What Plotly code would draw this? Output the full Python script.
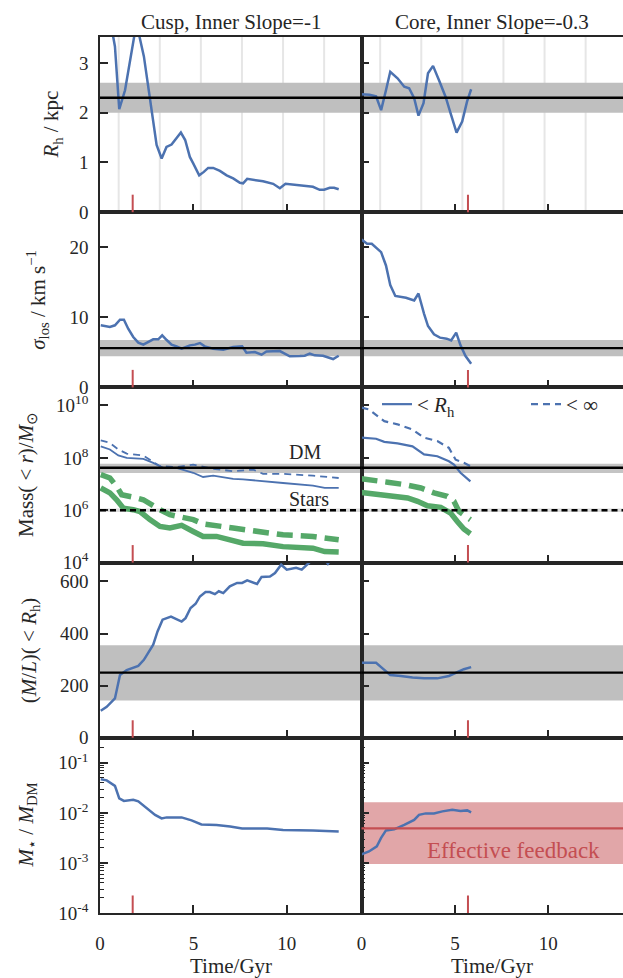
import plotly.graph_objects as go
from plotly.subplots import make_subplots

BLUE = "#4C72B0"
GREEN = "#55A868"
RED = "#C44E52"
TXT = "#262626"
FONT = "Liberation Serif"
BAND = "#BFBFBF"

# ---------------- data ----------------
# Cusp (left column)
t_rh_cusp = [0.0, 0.4, 0.71, 0.8, 1.03, 1.34, 1.84, 2.1, 2.35, 2.64, 3.03, 3.3, 3.56, 3.83, 4.1, 4.33,
             4.56, 4.81, 4.99, 5.31, 5.56, 5.79, 6.06, 6.42, 6.78, 7.13, 7.49, 7.66, 7.88, 8.2, 8.73,
             9.27, 9.63, 9.93, 10.34, 10.87, 11.4, 11.76, 12.0, 12.3, 12.53, 12.78]
rh_cusp = [5.0, 4.2, 3.55, 3.33, 2.07, 2.45, 3.55, 3.55, 3.13, 2.39, 1.35, 1.08, 1.31, 1.36, 1.48, 1.60,
           1.45, 1.11, 0.98, 0.74, 0.81, 0.89, 0.89, 0.83, 0.74, 0.68, 0.59, 0.58, 0.67, 0.65, 0.62,
           0.57, 0.48, 0.57, 0.55, 0.53, 0.51, 0.45, 0.45, 0.49, 0.49, 0.46]

t_sig_cusp = [0.04, 0.53, 0.8, 1.07, 1.28, 1.51, 1.78, 2.05, 2.32, 2.58, 2.85, 3.12, 3.33, 3.57, 3.83,
              4.1, 4.37, 4.81, 5.08, 5.35, 5.61, 6.06, 6.6, 7.13, 7.61, 7.84, 8.29, 8.65, 8.91, 9.63,
              10.16, 10.7, 10.96, 11.23, 11.5, 11.94, 12.48, 12.78]
sig_cusp = [8.86, 8.62, 8.86, 9.67, 9.67, 8.38, 7.19, 6.38, 6.1, 6.48, 6.86, 6.86, 7.43, 6.76, 6.1,
            5.86, 5.52, 6.0, 6.1, 6.33, 5.86, 5.52, 5.38, 5.76, 5.86, 4.95, 5.05, 4.67, 5.14, 5.19,
            4.43, 4.48, 4.52, 4.81, 4.57, 4.52, 4.05, 4.52]

t_dm_rh_cusp = [0.04, 0.53, 0.98, 1.43, 2.32, 2.85, 3.39, 4.1, 4.99, 5.52, 6.06, 7.13, 7.66, 8.73,
                9.8, 11.4, 12.03, 12.78]
log_dm_rh_cusp = [8.44, 8.32, 8.09, 8.0, 7.96, 7.81, 7.62, 7.62, 7.43, 7.27, 7.32, 7.2, 7.18, 7.1,
                  7.04, 6.94, 6.85, 6.85]
t_dm_all_cusp = [0.04, 0.53, 0.98, 1.43, 2.32, 3.21, 4.1, 4.99, 6.06, 7.13, 8.2, 8.73, 9.8, 11.4, 12.78]
log_dm_all_cusp = [8.67, 8.57, 8.32, 8.16, 8.09, 7.68, 7.65, 7.74, 7.58, 7.49, 7.55, 7.39, 7.39, 7.32, 7.23]
t_st_rh_cusp = [0.04, 0.53, 0.89, 1.25, 1.78, 2.14, 2.67, 3.21, 3.74, 4.37, 4.99, 5.52, 6.24, 7.13,
                7.66, 8.73, 9.8, 11.4, 12.03, 12.78]
log_st_rh_cusp = [6.85, 6.66, 6.4, 6.08, 6.02, 5.95, 5.64, 5.38, 5.32, 5.42, 5.19, 5.0, 5.0, 4.87,
                  4.74, 4.72, 4.61, 4.55, 4.42, 4.4]
t_st_all_cusp = [0.04, 0.53, 0.89, 1.16, 1.78, 2.32, 3.21, 3.74, 4.99, 5.52, 7.13, 8.73, 9.8, 11.4, 12.78]
log_st_all_cusp = [7.36, 7.23, 6.91, 6.59, 6.5, 6.4, 6.02, 5.83, 5.64, 5.48, 5.32, 5.19, 5.06, 5.0, 4.87]

t_ml_cusp = [0.04, 0.36, 0.8, 1.07, 1.43, 2.05, 2.35, 2.58, 2.85, 3.08, 3.35, 3.8, 4.37, 4.58, 4.85,
             5.12, 5.35, 5.65, 5.88, 6.15, 6.36, 6.6, 6.95, 7.34, 7.61, 7.88, 8.41, 8.65, 9.1, 9.37,
             9.7, 10.0, 10.5, 10.8, 11.2, 11.5, 12.0, 12.2, 12.5, 12.78]
ml_cusp = [104, 119, 151, 241, 260, 276, 299, 327, 357, 408, 453, 465, 446, 459, 498,
           514, 542, 559, 559, 551, 562, 555, 581, 594, 594, 604, 590, 617, 619, 632,
           664, 645, 652, 645, 672, 700, 690, 668, 700, 720]

t_ratio_cusp = [0.04, 0.36, 0.8, 1.03, 1.28, 1.78, 2.05, 2.5, 2.95, 3.3, 3.57, 4.37, 4.9, 5.43, 6.24,
                6.97, 7.61, 8.95, 9.8, 11.4, 12.78]
log_ratio_cusp = [-1.33, -1.35, -1.46, -1.71, -1.76, -1.74, -1.77, -1.91, -2.04, -2.11, -2.09, -2.09,
                  -2.15, -2.23, -2.24, -2.27, -2.31, -2.31, -2.34, -2.35, -2.37]

# Core (right column)
t_rh_core = [0.0, 0.43, 0.78, 1.05, 1.31, 1.54, 1.93, 2.29, 2.55, 2.82, 3.05, 3.32, 3.56, 3.83, 4.15,
             4.5, 4.8, 5.09, 5.39, 5.65, 5.87]
rh_core = [2.37, 2.36, 2.33, 2.05, 2.45, 2.82, 2.69, 2.52, 2.49, 2.29, 1.94, 2.19, 2.79, 2.94, 2.65,
           2.32, 1.95, 1.6, 1.82, 2.22, 2.47]

t_sig_core = [0.0, 0.3, 0.55, 1.05, 1.31, 1.54, 1.81, 2.38, 2.82, 3.05, 3.35, 3.56, 3.88, 4.2, 4.56,
              4.8, 5.07, 5.3, 5.57, 5.87]
sig_core = [21.1, 20.5, 20.5, 19.3, 17.4, 14.6, 13.05, 12.8, 12.4, 13.4, 10.5, 8.76, 7.57, 7.1, 6.95,
            6.71, 7.81, 6.0, 4.48, 3.38]

t_dm_all_core = [0.0, 0.4, 1.22, 1.93, 2.73, 3.35, 4.06, 4.68, 5.04, 5.48, 5.83]
log_dm_all_core = [9.92, 9.85, 9.4, 9.28, 9.08, 8.77, 8.64, 8.38, 7.93, 7.81, 7.68]
t_dm_rh_core = [0.0, 0.78, 1.22, 1.93, 2.73, 3.35, 4.06, 4.68, 4.95, 5.3, 5.83]
log_dm_rh_core = [8.77, 8.73, 8.61, 8.55, 8.44, 8.13, 8.06, 7.87, 7.74, 7.43, 7.1]
t_st_all_core = [0.0, 0.5, 1.4, 2.29, 3.18, 3.88, 4.59, 4.95, 5.22, 5.83]
log_st_all_core = [7.2, 7.17, 7.07, 6.98, 6.85, 6.66, 6.53, 6.34, 5.95, 5.64]
t_st_rh_core = [0.0, 0.85, 1.4, 2.47, 3.0, 3.53, 4.24, 4.77, 5.13, 5.48, 5.83]
log_st_rh_core = [6.68, 6.59, 6.53, 6.47, 6.34, 6.17, 6.11, 5.89, 5.57, 5.28, 5.1]

t_ml_core = [0.0, 0.78, 1.05, 1.54, 2.11, 2.73, 3.35, 4.06, 4.68, 5.04, 5.48, 5.87]
ml_core = [288, 288, 271, 241, 237, 231, 228, 228, 237, 248, 263, 271]

t_ratio_core = [0.0, 0.4, 0.82, 1.05, 1.31, 1.75, 2.29, 2.82, 3.08, 3.44, 3.88, 4.33, 4.86, 5.3, 5.66, 5.87]
log_ratio_core = [-2.83, -2.77, -2.67, -2.5, -2.35, -2.33, -2.24, -2.14, -2.04, -2.01, -2.01, -1.97,
                  -1.94, -1.96, -1.95, -1.99]

# observational reference values (line, band low, band high)
obs_rh = (2.3, 2.0, 2.6)
obs_sig = (5.6, 4.45, 6.75)
obs_log_mdm = (7.62, 7.42, 7.77)
obs_log_mstar = (6.0, 5.93, 6.07)
obs_ml = (250, 143, 355)
feedback_log = (-2.31, -3.02, -1.79)

peri_times = [1.0, 3.2, 5.4, 7.6, 9.8, 12.0]
infall_times = [1.75, 5.7]

col_titles = ["Cusp, Inner Slope=-1", "Core, Inner Slope=-0.3"]
y_titles = ["<i>R</i><sub>h</sub> / kpc",
            "<i>σ</i><sub>los</sub> / km s<sup>−1</sup>",
            "Mass( < <i>r</i>)/<i>M</i><sub>⊙</sub>",
            "(<i>M</i>/<i>L</i>)( < <i>R</i><sub>h</sub>)",
            "<i>M</i><sub>⋆</sub> / <i>M</i><sub>DM</sub>"]
y_title_px = [52, 38, 27, 30, 27]
x_ticks = [0, 5, 10]
mass_ticks = [4, 6, 8, 10]
ratio_ticks = [-4, -3, -2, -1]

# ---------------- figure ----------------
L, R, T, B = 100, 0, 37, 65
W, H = 623, 978
PW = W - L - R
PH = H - T - B

fig = make_subplots(rows=5, cols=2, horizontal_spacing=0, vertical_spacing=0)


def ax_id(row, col):
    i = (row - 1) * 2 + col
    return "" if i == 1 else str(i)


def line(x, y, row, col, color=BLUE, width=2.5, dash="solid", name=None, legend=False):
    fig.add_trace(go.Scatter(x=x, y=y, mode="lines", name=name, showlegend=legend,
                             line=dict(color=color, width=width, dash=dash)), row=row, col=col)


p10 = lambda a: [10 ** v for v in a]

# Row 1
line(t_rh_cusp, rh_cusp, 1, 1)
line(t_rh_core, rh_core, 1, 2)
# Row 2
line(t_sig_cusp, sig_cusp, 2, 1)
line(t_sig_core, sig_core, 2, 2)
# Row 3 (log)
line(t_st_all_cusp, p10(log_st_all_cusp), 3, 1, GREEN, 5.5, "16px,8px")
line(t_st_rh_cusp, p10(log_st_rh_cusp), 3, 1, GREEN, 5.5)
line(t_dm_all_cusp, p10(log_dm_all_cusp), 3, 1, BLUE, 1.8, "7px,5px")
line(t_dm_rh_cusp, p10(log_dm_rh_cusp), 3, 1, BLUE, 1.8)
line(t_st_all_core, p10(log_st_all_core), 3, 2, GREEN, 5.5, "16px,8px")
line(t_st_rh_core, p10(log_st_rh_core), 3, 2, GREEN, 5.5)
line(t_dm_rh_core, p10(log_dm_rh_core), 3, 2, BLUE, 2.2, "solid",
     name="< <i>R</i><sub>h</sub>", legend=True)
line(t_dm_all_core, p10(log_dm_all_core), 3, 2, BLUE, 2.2, "7px,5px",
     name="< ∞", legend=True)
# Row 4
line(t_ml_cusp, ml_cusp, 4, 1)
line(t_ml_core, ml_core, 4, 2)
# Row 5 (log)
line(t_ratio_cusp, p10(log_ratio_cusp), 5, 1)
line(t_ratio_core, p10(log_ratio_core), 5, 2)

shapes = []


def hband(row, col, lo, hi, color, opacity=1.0):
    a = ax_id(row, col)
    shapes.append(dict(type="rect", xref=f"x{a} domain", yref=f"y{a}", x0=0, x1=1, y0=lo, y1=hi,
                       fillcolor=color, opacity=opacity, line_width=0, layer="below"))


def hline(row, col, y, color="black", width=2.4, dash="solid"):
    a = ax_id(row, col)
    shapes.append(dict(type="line", xref=f"x{a} domain", yref=f"y{a}", x0=0, x1=1, y0=y, y1=y,
                       line=dict(color=color, width=width, dash=dash), layer="above"))


# pericentre lines (row 1)
for col in (1, 2):
    a = ax_id(1, col)
    for tp in peri_times:
        shapes.append(dict(type="line", xref=f"x{a}", yref=f"y{a} domain", x0=tp, x1=tp, y0=0, y1=1,
                           line=dict(color="#E6E6E6", width=2), layer="below"))

for col in (1, 2):
    hband(1, col, obs_rh[1], obs_rh[2], BAND)
    hline(1, col, obs_rh[0])
    hband(2, col, obs_sig[1], obs_sig[2], BAND)
    hline(2, col, obs_sig[0])
    hband(3, col, 10 ** obs_log_mdm[1], 10 ** obs_log_mdm[2], "#C4C4C4")
    hline(3, col, 10 ** obs_log_mdm[0])
    hband(3, col, 10 ** obs_log_mstar[1], 10 ** obs_log_mstar[2], "#DCDCDC")
    hline(3, col, 10 ** obs_log_mstar[0], dash="6px,4px")
    hband(4, col, obs_ml[1], obs_ml[2], BAND)
    hline(4, col, obs_ml[0])

hband(5, 2, 10 ** feedback_log[1], 10 ** feedback_log[2], RED, 0.5)
hline(5, 2, 10 ** feedback_log[0], color=RED, width=2.2)

# infall markers (red ticks at bottom of every panel)
for col, ti in zip((1, 2), infall_times):
    for row in range(1, 6):
        a = ax_id(row, col)
        shapes.append(dict(type="line", xref=f"x{a}", yref=f"y{a} domain", x0=ti, x1=ti, y0=0, y1=0.1,
                           line=dict(color=RED, width=2), layer="above"))

fig.update_layout(shapes=shapes)

# ---------------- axes ----------------
common = dict(showgrid=False, zeroline=False, showline=True, linecolor=TXT, linewidth=1.6,
              ticks="inside", ticklen=8, tickwidth=2, tickcolor=TXT,
              tickfont=dict(family=FONT, size=19, color=TXT))

y_ranges = [[0, 3.52], [0, 25], [4, 10.69], [0, 672], [-4, -0.5]]
y_types = ["linear", "linear", "log", "linear", "log"]
y_tickvals = [[0, 1, 2, 3], [0, 10, 20], p10(mass_ticks), [0, 200, 400, 600], p10(ratio_ticks)]
y_ticktext = [["0", "1", "2", "3"], ["0", "10", "20"],
              [f"10<sup>{v}</sup>" for v in mass_ticks], ["0", "200", "400", "600"],
              [f"10<sup>{v}</sup>" for v in ratio_ticks]]
minor_vals = [k * 10 ** e for e in range(-4, 0) for k in range(2, 10) if k * 10 ** e < 0.32]

for row in range(1, 6):
    for col in (1, 2):
        a = ax_id(row, col)
        xa = dict(common, range=[0, 14], tickvals=x_ticks, ticktext=[str(v) for v in x_ticks],
                  showticklabels=(row == 5), mirror=True, ticklabelstandoff=12)
        ya = dict(common, range=y_ranges[row - 1], type=y_types[row - 1],
                  tickmode="array", tickvals=y_tickvals[row - 1], ticktext=y_ticktext[row - 1],
                  showticklabels=(col == 1), mirror=(col == 1), ticklabelstandoff=6)
        if row == 5:
            ya["minor"] = dict(ticks="inside", ticklen=4, tickwidth=1.2, tickcolor=TXT,
                               tickvals=minor_vals, showgrid=False)
        fig.layout["xaxis" + a].update(xa)
        fig.layout["yaxis" + a].update(ya)

# ---------------- text ----------------
ann = []
for i, ttl in enumerate(col_titles):
    ann.append(dict(text=ttl, xref="paper", yref="paper", x=0.25 + 0.5 * i, y=1 + 15 / PH,
                    showarrow=False, xanchor="center", yanchor="middle",
                    font=dict(family=FONT, size=21, color=TXT)))
    ann.append(dict(text="Time/Gyr", xref="paper", yref="paper", x=0.25 + 0.5 * i, y=-(966 - (T + PH)) / PH,
                    showarrow=False, xanchor="center", yanchor="middle",
                    font=dict(family=FONT, size=21, color=TXT)))
for row, (ttl, px) in enumerate(zip(y_titles, y_title_px), start=1):
    a = ax_id(row, 1)
    ann.append(dict(text=ttl, xref="paper", yref=f"y{a} domain", x=(px - L) / PW, y=0.5,
                    textangle=-90, showarrow=False, xanchor="center", yanchor="middle",
                    font=dict(family=FONT, size=21, color=TXT)))

ann.append(dict(text="DM", xref="x5", yref="y5", x=11.0, y=8.24, showarrow=False,
                font=dict(family=FONT, size=20, color=TXT)))
ann.append(dict(text="Stars", xref="x5", yref="y5", x=11.2, y=6.42, showarrow=False,
                font=dict(family=FONT, size=20, color=TXT)))
ann.append(dict(text="Effective feedback", xref="x10", yref="y10", x=8.15, y=-2.76, showarrow=False,
                font=dict(family=FONT, size=23, color=RED)))

fig.update_layout(
    width=W, height=H, margin=dict(l=L, r=R, t=T, b=B, autoexpand=False),
    plot_bgcolor="white", paper_bgcolor="white",
    font=dict(family=FONT, size=19, color=TXT),
    annotations=ann,
    showlegend=True,
    legend=dict(orientation="h", x=(377 - L) / PW, y=(T + PH - 384) / PH, xanchor="left", yanchor="top",
                bgcolor="rgba(0,0,0,0)", font=dict(family=FONT, size=21, color=TXT),
                entrywidth=104, itemwidth=30, tracegroupgap=0),
)

fig.write_html("out.html", config={"displayModeBar": False},
               post_script="document.body.style.margin='0';document.body.style.overflow='hidden';")
